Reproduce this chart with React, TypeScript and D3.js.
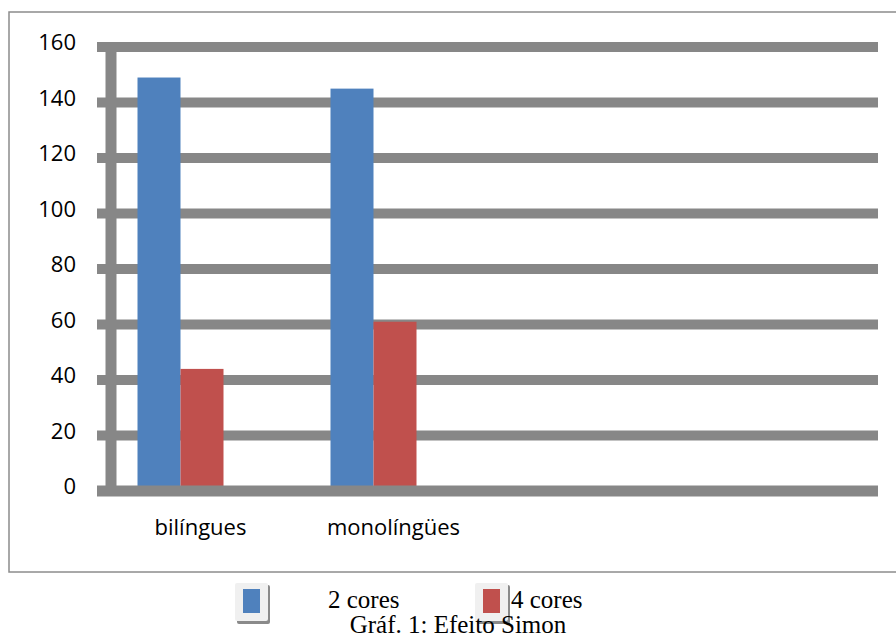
import React from "react";
import { scaleLinear, scaleBand } from "d3";

// values
const categories = ["bilíngues", "monolíngües"];
const series = ["2 cores", "4 cores"];
const values2cores = [149, 145];
const values4cores = [44, 61];
const yTicks = [0, 20, 40, 60, 80, 100, 120, 140, 160];
const caption = "Gráf. 1: Efeito Simon";

const COLORS = ["#4f81bd", "#c0504d"];
const GRID = "#878787";
const SERIF = "'Liberation Serif', 'Times New Roman', serif";
const SANS = "'Open Sans', sans-serif";

export default function App() {
  const width = 896;
  const height = 638;
  const margin = { top: 47, left: 104, right: 20, bottom: 147 };

  const yScale = scaleLinear().domain([0, 160]).range([height - margin.bottom, margin.top]);

  // Excel leaves two empty slots on the right side of the plot
  const slots = [...categories, "_3", "_4"];
  const xScale = scaleBand().domain(slots).range([margin.left, width - margin.right]);

  // bars sit a bit left of the label centre, as in the original
  const groupOffset = -20;
  const groupWidth = 86;
  const inner = scaleBand().domain(series).range([-groupWidth / 2, groupWidth / 2]);

  const rows = categories.map((c, i) => ({ c, vals: [values2cores[i], values4cores[i]] }));

  const gridX0 = 97;
  const gridX1 = 878;
  const axisX = 111;
  const y0 = yScale(0);

  return (
    <svg width={width} height={height} style={{ position: "absolute", left: 0, top: 0 }}>
      <rect x={9} y={12} width={900} height={560} fill="#fff" stroke="#8c8c8c" strokeWidth={1.5} />

      {/* horizontal grid lines */}
      {yTicks.filter(t => t > 0).map(t => (
        <line key={t} x1={gridX0} x2={gridX1} y1={yScale(t)} y2={yScale(t)} stroke={GRID} strokeWidth={10} />
      ))}
      <line x1={axisX} x2={axisX} y1={yScale(160) - 5} y2={y0} stroke={GRID} strokeWidth={11} />

      {/* bars */}
      {rows.map(r => (
        <g key={r.c} transform={`translate(${(xScale(r.c) as number) + xScale.bandwidth() / 2 + groupOffset},0)`}>
          {r.vals.map((v, j) => (
            <rect
              key={j}
              x={inner(series[j]) as number}
              y={yScale(v)}
              width={inner.bandwidth()}
              height={y0 - yScale(v)}
              fill={COLORS[j]}
            />
          ))}
        </g>
      ))}

      {/* baseline drawn over bar bottoms */}
      <line x1={gridX0} x2={gridX1} y1={y0} y2={y0} stroke={GRID} strokeWidth={11} />

      {/* y tick labels */}
      {yTicks.map(t => (
        <text key={t} x={76} y={yScale(t) + 3} textAnchor="end" fontFamily={SANS} fontSize={22} fill="#000">
          {t}
        </text>
      ))}

      {/* category labels */}
      {categories.map(c => (
        <text
          key={c}
          x={(xScale(c) as number) + xScale.bandwidth() / 2}
          y={535}
          textAnchor="middle"
          fontFamily={SANS}
          fontSize={22}
          fill="#000"
        >
          {c}
        </text>
      ))}

      {/* legend */}
      {series.map((s, i) => {
        const fx = [235, 475][i];
        const tx = [328, 511][i];
        return (
          <g key={s}>
            <text x={tx} y={608} fontFamily={SERIF} fontSize={25} fill="#000">
              {s}
            </text>
            <rect x={fx + 2} y={585} width={33} height={39} fill="#8a8a8a" rx={2} />
            <rect x={fx} y={583} width={33} height={38} fill="#f0f0f0" rx={2} />
            <rect x={fx + 8} y={589} width={17} height={24} fill={COLORS[i]} />
          </g>
        );
      })}

      <text x={458} y={633} textAnchor="middle" fontFamily={SERIF} fontSize={25} fill="#000">
        {caption}
      </text>
    </svg>
  );
}
